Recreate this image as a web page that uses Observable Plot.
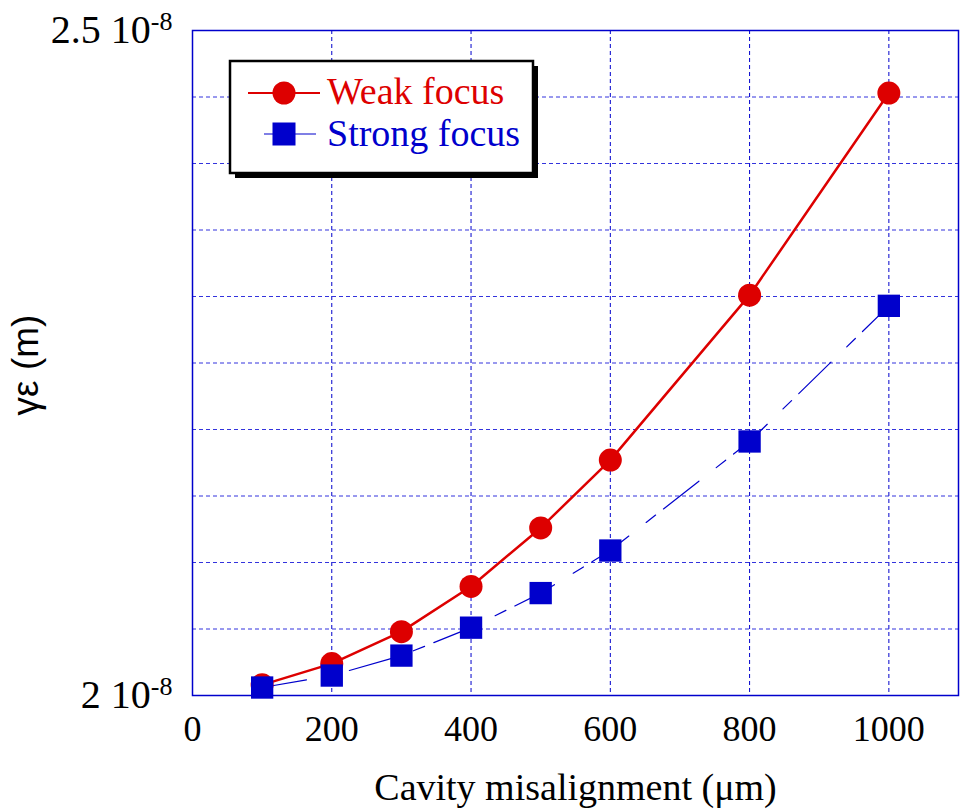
<!DOCTYPE html>
<html>
<head>
<meta charset="utf-8">
<script src="https://cdn.jsdelivr.net/npm/d3@7"></script>
<script src="https://cdn.jsdelivr.net/npm/@observablehq/plot@0.6"></script>
<style>
  html, body { margin: 0; padding: 0; background: #fff; }
  #chart { width: 960px; height: 811px; }
</style>
</head>
<body>
<div id="chart"></div>
<script>
// Cavity misalignment (µm)
const misalignment = [100, 200, 300, 400, 500, 600, 800, 1000];
// γε in units of 1e-8 m
const weakFocus   = [2.008, 2.024, 2.048, 2.082, 2.126, 2.177, 2.301, 2.453];
const strongFocus = [2.006, 2.015, 2.030, 2.051, 2.077, 2.109, 2.191, 2.293];
const seriesNames = ["Weak focus", "Strong focus"];
const seriesColors = ["#dd0000", "#0000cc"];
const xTicks = [0, 200, 400, 600, 800, 1000];
const yTicks = [2, 2.5];
const yGrid = [2.05, 2.1, 2.15, 2.2, 2.25, 2.3, 2.35, 2.4, 2.45];
const xGrid = [200, 400, 600, 800, 1000];
const yExponent = "-8";

const weak = misalignment.map((x, i) => ({x, y: weakFocus[i]}));
const strong = misalignment.map((x, i) => ({x, y: strongFocus[i]}));

const serif = "'Liberation Serif', 'Times New Roman', serif";
const sans = "'Liberation Sans', Arial, sans-serif";

const svg = Plot.plot({
  width: 960,
  height: 811,
  marginLeft: 192,
  marginRight: 2,
  marginTop: 30,
  marginBottom: 116,
  style: {fontFamily: serif, color: "#000", background: "#fff", overflow: "visible"},
  x: {domain: [0, 1100]},
  y: {domain: [2, 2.5]},
  marks: [
    Plot.ruleX(xGrid, {stroke: "#0000cc", strokeWidth: 1, strokeDasharray: "4,3"}),
    Plot.ruleY(yGrid, {stroke: "#3333dd", strokeWidth: 1, strokeDasharray: "4,3"}),
    Plot.frame({stroke: "#0000cc", strokeWidth: 1.5}),
    Plot.axisX({ticks: xTicks, tickSize: 0, tickPadding: 20, fontSize: 36, label: null, tickFormat: d => String(d)}),
    Plot.axisY({ticks: yTicks, tickSize: 0, tickPadding: 20, fontSize: 40, label: null, tickFormat: d => `${d} 10`}),
    Plot.line(strong, {x: "x", y: "y", stroke: seriesColors[1], strokeWidth: 1.2, strokeDasharray: "45,22,12,10"}),
    Plot.line(weak, {x: "x", y: "y", stroke: seriesColors[0], strokeWidth: 2.5}),
    Plot.dot(weak, {x: "x", y: "y", r: 11.5, fill: seriesColors[0], stroke: null}),
    Plot.dot(strong, {x: "x", y: "y", r: 12.6, symbol: "square", fill: seriesColors[1], stroke: null}),
    Plot.text(["γε (m)"], {frameAnchor: "left", dx: -155, dy: 2, rotate: -90, lineAnchor: "bottom", textAnchor: "middle", fontFamily: sans, fontSize: 37, fill: "#000"}),
    Plot.text(["Cavity misalignment (μm)"], {frameAnchor: "bottom", dy: 104, lineAnchor: "bottom", textAnchor: "middle", fontSize: 38, fill: "#000"})
  ]
});

// superscript exponent on y tick labels
d3.select(svg).selectAll('g[aria-label="y-axis tick label"] text').each(function() {
  const t = d3.select(this);
  t.append("tspan").attr("dy", "-0.5em").attr("font-size", 26).text(yExponent);
});

// legend
const lg = d3.select(svg).append("g").attr("font-family", serif).attr("text-anchor", "start");
const bx = 230, by = 61, bw = 303, bh = 112;
lg.append("rect").attr("x", bx + 5).attr("y", by + 5).attr("width", bw).attr("height", bh).attr("fill", "#000");
lg.append("rect").attr("x", bx).attr("y", by).attr("width", bw).attr("height", bh).attr("fill", "#fff").attr("stroke", "#000").attr("stroke-width", 2.5);
// weak
lg.append("line").attr("x1", 248).attr("x2", 320).attr("y1", 93).attr("y2", 93).attr("stroke", seriesColors[0]).attr("stroke-width", 2);
lg.append("circle").attr("cx", 284).attr("cy", 93).attr("r", 11.5).attr("fill", seriesColors[0]);
lg.append("text").attr("x", 327).attr("y", 104).attr("font-size", 38).attr("fill", seriesColors[0]).attr("text-anchor", "start").text(seriesNames[0]);
// strong
lg.append("line").attr("x1", 264).attr("x2", 316).attr("y1", 134).attr("y2", 134).attr("stroke", seriesColors[1]).attr("stroke-width", 1.2);
lg.append("rect").attr("x", 272.5).attr("y", 122.5).attr("width", 23).attr("height", 23).attr("fill", seriesColors[1]);
lg.append("text").attr("x", 327).attr("y", 146).attr("font-size", 38).attr("fill", seriesColors[1]).attr("text-anchor", "start").text(seriesNames[1]);

document.getElementById("chart").appendChild(svg);
</script>
</body>
</html>
